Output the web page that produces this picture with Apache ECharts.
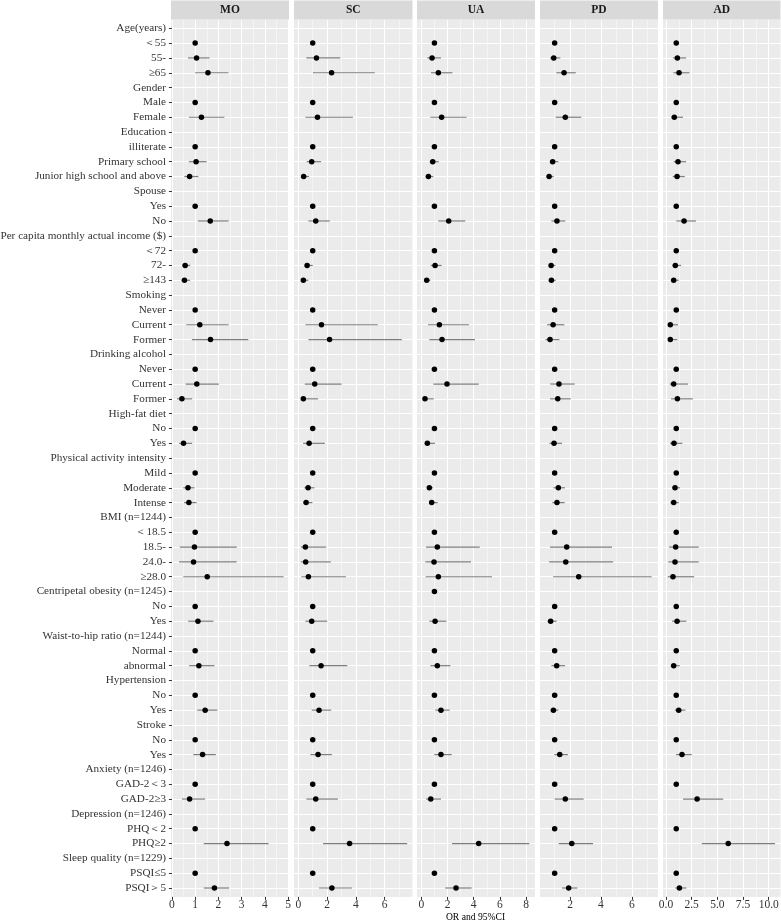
<!DOCTYPE html>
<html><head><meta charset="utf-8">
<script src="https://cdn.jsdelivr.net/npm/echarts@6/dist/echarts.min.js"></script>
<style>html,body{margin:0;padding:0;background:#fff}#c{width:781px;height:922px}</style>
</head><body><div id="c"></div>
<script>
const categories = ['Age(years)','＜55','55-','≥65','Gender','Male','Female','Education','illiterate','Primary school','Junior high school and above','Spouse','Yes','No','Per capita monthly actual income ($)','＜72','72-','≥143','Smoking','Never','Current','Former','Drinking alcohol','Never','Current','Former','High-fat diet','No','Yes','Physical activity intensity','Mild','Moderate','Intense','BMI (n=1244)','＜18.5','18.5-','24.0-','≥28.0','Centripetal obesity (n=1245)','No','Yes','Waist-to-hip ratio (n=1244)','Normal','abnormal','Hypertension','No','Yes','Stroke','No','Yes','Anxiety (n=1246)','GAD-2＜3','GAD-2≥3','Depression (n=1246)','PHQ＜2','PHQ≥2','Sleep quality (n=1229)','PSQI≤5','PSQI＞5'];
const panelNames = ['MO','SC','UA','PD','AD'];
const n = null;
// MO
const moOR   = [n,1,1.06,1.55,n,1,1.27,n,1,1.04,0.76,n,1,1.65,n,1,0.57,0.54,n,1,1.20,1.66,n,1,1.07,0.43,n,1,0.50,n,1,0.69,0.73,n,1,0.97,0.93,1.52,n,1,1.12,n,1,1.16,n,1,1.43,n,1,1.32,n,1,0.76,n,1,2.37,n,1,1.83];
const moLow  = [n,1,0.69,1.00,n,1,0.73,n,1,0.73,0.53,n,1,1.12,n,1,0.44,0.41,n,1,0.62,0.86,n,1,0.59,0.22,n,1,0.31,n,1,0.49,0.52,n,1,0.34,0.31,0.49,n,1,0.70,n,1,0.74,n,1,1.09,n,1,0.92,n,1,0.43,n,1,1.37,n,1,1.37];
const moHigh = [n,1,1.62,2.43,n,1,2.26,n,1,1.49,1.14,n,1,2.44,n,1,0.79,0.79,n,1,2.44,3.29,n,1,2.02,0.87,n,1,0.87,n,1,0.97,1.06,n,1,2.79,2.79,4.81,n,1,1.79,n,1,1.83,n,1,1.95,n,1,1.89,n,1,1.43,n,1,4.16,n,1,2.46];
// SC
const scOR   = [n,1,1.26,2.31,n,1,1.33,n,1,0.93,0.37,n,1,1.21,n,1,0.61,0.35,n,1,1.61,2.17,n,1,1.14,0.35,n,1,0.75,n,1,0.68,0.54,n,1,0.49,0.51,0.70,n,1,0.93,n,1,1.58,n,1,1.44,n,1,1.37,n,1,1.21,n,1,3.56,n,1,2.33];
const scLow  = [n,1,0.56,1.02,n,1,0.49,n,1,0.58,0.24,n,1,0.70,n,1,0.45,0.19,n,1,0.49,0.70,n,1,0.45,0.17,n,1,0.33,n,1,0.42,0.33,n,1,0.17,0.17,0.21,n,1,0.49,n,1,0.77,n,1,0.93,n,1,0.84,n,1,0.56,n,1,1.72,n,1,1.44];
const scHigh = [n,1,2.91,5.31,n,1,3.79,n,1,1.58,0.75,n,1,2.19,n,1,1.00,0.70,n,1,5.52,7.19,n,1,3.00,1.37,n,1,1.84,n,1,1.12,0.98,n,1,1.93,2.26,3.31,n,1,2.00,n,1,3.40,n,1,2.28,n,1,2.33,n,1,2.75,n,1,7.56,n,1,3.72];
// UA
const uaOR   = [n,1,0.82,1.30,n,1,1.55,n,1,0.87,0.54,n,1,2.09,n,1,1.05,0.41,n,1,1.38,1.58,n,1,1.96,0.28,n,1,0.46,n,1,0.61,0.79,n,1,1.22,0.97,1.30,1,n,1.05,n,1,1.22,n,1,1.50,n,1,1.50,n,1,0.72,n,n,4.38,n,1,2.65];
const uaLow  = [n,1,0.46,0.74,n,1,0.69,n,1,0.64,0.34,n,1,1.30,n,1,0.72,0.26,n,1,0.51,0.61,n,1,0.92,0.13,n,1,0.26,n,1,0.44,0.59,n,1,0.36,0.31,0.33,1,n,0.61,n,1,0.69,n,1,1.07,n,1,0.99,n,1,0.36,n,n,2.34,n,1,1.83];
const uaHigh = [n,1,1.50,2.37,n,1,3.46,n,1,1.33,0.92,n,1,3.36,n,1,1.55,0.69,n,1,3.64,4.10,n,1,4.38,0.94,n,1,1.05,n,1,0.89,1.25,n,1,4.46,3.79,5.40,1,n,1.91,n,1,2.22,n,1,2.17,n,1,2.32,n,1,1.50,n,n,8.25,n,1,3.84];
// PD
const pdOR   = [n,1,0.94,1.61,n,1,1.69,n,1,0.87,0.64,n,1,1.15,n,1,0.77,0.79,n,1,0.90,0.70,n,1,1.28,1.20,n,1,0.96,n,1,1.24,1.15,n,1,1.78,1.72,2.56,n,1,0.74,n,1,1.13,n,1,0.92,n,1,1.33,n,1,1.69,n,1,2.11,n,1,1.91];
const pdLow  = [n,1,0.70,1.11,n,1,1.07,n,1,0.68,0.48,n,1,0.79,n,1,0.62,0.62,n,1,0.51,0.40,n,1,0.72,0.70,n,1,0.66,n,1,0.92,0.85,n,1,0.70,0.64,0.90,n,1,0.53,n,1,0.79,n,1,0.74,n,1,0.98,n,1,1.00,n,1,1.26,n,1,1.48];
const pdHigh = [n,1,1.37,2.37,n,1,2.73,n,1,1.24,0.94,n,1,1.69,n,1,1.05,1.07,n,1,1.63,1.31,n,1,2.30,2.04,n,1,1.48,n,1,1.67,1.65,n,1,4.72,4.79,7.29,n,1,1.13,n,1,1.67,n,1,1.24,n,1,1.86,n,1,2.88,n,1,3.49,n,1,2.47];
// AD
const adOR   = [n,1,1.11,1.27,n,1,0.81,n,1,1.17,1.08,n,1,1.76,n,1,0.91,0.75,n,1,0.42,0.42,n,1,0.75,1.11,n,1,0.78,n,1,0.88,0.75,n,1,0.94,0.88,0.68,n,1,1.08,n,1,0.75,n,1,1.24,n,1,1.56,n,1,3.03,n,1,6.06,n,1,1.31];
const adLow  = [n,1,0.68,0.72,n,1,0.52,n,1,0.75,0.65,n,1,1.01,n,1,0.62,0.52,n,1,0.23,0.23,n,1,0.36,0.49,n,1,0.39,n,1,0.59,0.42,n,1,0.29,0.23,0.16,n,1,0.59,n,1,0.46,n,1,0.85,n,1,0.98,n,1,1.66,n,1,3.49,n,1,0.91];
const adHigh = [n,1,1.96,2.28,n,1,1.66,n,1,1.96,1.83,n,1,2.93,n,1,1.47,1.24,n,1,1.17,1.11,n,1,2.15,2.61,n,1,1.60,n,1,1.37,1.24,n,1,3.19,3.19,2.74,n,1,1.99,n,1,1.34,n,1,1.89,n,1,2.51,n,1,5.57,n,1,10.62,n,1,1.99];

const orArr = [moOR, scOR, uaOR, pdOR, adOR];
const lowArr = [moLow, scLow, uaLow, pdLow, adLow];
const highArr = [moHigh, scHigh, uaHigh, pdHigh, adHigh];
const majorTicks = [[0,1,2,3,4,5],[0,2,4,6],[0,2,4,6,8],[2,4,6],[0,2.5,5,7.5,10]];
const minorTicks = [[0.5,1.5,2.5,3.5,4.5],[1,3,5,7],[1,3,5,7],[1,3,5,7],[1.25,3.75,6.25,8.75]];
const xRange = [[-0.04,5.04],[-0.30,7.93],[-0.33,8.68],[0.05,7.70],[-0.29,11.15]];

const FONT = "'Liberation Serif','Times New Roman',serif";
const rows = categories.map((_, i) => i + 1);
const panelLeft = [171, 294, 417, 540, 663];
const panelW = [118, 118.5, 118, 118, 117.5];
const TOP = 19.4, H = 877.5;

const grids = [], xAxes = [], yAxes = [], series = [], graphics = [];
panelNames.forEach((name, i) => {
  grids.push({left: panelLeft[i], top: TOP, width: panelW[i], height: H, show: true,
    backgroundColor: '#ebebeb', borderWidth: 0, containLabel: false, outerBoundsMode: 'none'});
  xAxes.push({type: 'value', gridIndex: i, min: xRange[i][0], max: xRange[i][1], position: 'bottom',
    axisLine: {show: false},
    axisTick: {show: true, length: 3, lineStyle: {color: '#333', width: 1}, customValues: majorTicks[i]},
    axisLabel: {show: true, customValues: majorTicks[i], margin: 2, fontFamily: FONT, fontSize: 11.5, color: '#333',
      formatter: v => (i === 4 ? Number(v).toFixed(1) : String(v))},
    splitLine: {show: true, lineStyle: {color: '#ffffff', width: 1}}
  });
  xAxes.push({type: 'value', gridIndex: i, min: xRange[i][0], max: xRange[i][1], position: 'bottom',
    axisLine: {show: false},
    axisTick: {show: false, customValues: minorTicks[i]},
    axisLabel: {show: false},
    splitLine: {show: true, lineStyle: {color: '#ffffff', width: 0.5}}
  });
  yAxes.push({type: 'value', gridIndex: i, inverse: true, min: 0.4, max: 59.6,
    axisLine: {show: false},
    axisTick: {show: i === 0, length: 3, lineStyle: {color: '#333', width: 1}, customValues: rows},
    axisLabel: {show: i === 0, customValues: rows, margin: 5, fontFamily: FONT, fontSize: 11.2, color: '#333',
      formatter: v => categories[Math.round(v) - 1]},
    splitLine: {show: true, lineStyle: {color: '#ffffff', width: 1}}
  });
  const errData = [], ptData = [];
  orArr[i].forEach((v, r) => {
    if (v === null) return;
    ptData.push([v, r + 1]);
    if (lowArr[i][r] !== highArr[i][r]) errData.push([lowArr[i][r], highArr[i][r], r + 1]);
  });
  series.push({type: 'custom', xAxisIndex: 2 * i, yAxisIndex: i, z: 2, silent: true,
    encode: {x: [0, 1], y: 2},
    renderItem: (params, api) => {
      const p1 = api.coord([api.value(0), api.value(2)]);
      const p2 = api.coord([api.value(1), api.value(2)]);
      return {type: 'line', shape: {x1: p1[0], y1: p1[1], x2: p2[0], y2: p2[1]},
        style: {stroke: '#7f7f7f', lineWidth: 1.2}};
    },
    data: errData});
  series.push({type: 'scatter', xAxisIndex: 2 * i, yAxisIndex: i, z: 3, silent: true,
    symbol: 'circle', symbolSize: 5.5, itemStyle: {color: '#000', opacity: 1}, data: ptData});
  graphics.push({type: 'rect', left: panelLeft[i], top: 0.5, shape: {width: panelW[i], height: TOP - 0.5},
    style: {fill: '#d9d9d9'}, z: 1});
  graphics.push({type: 'text', x: panelLeft[i] + panelW[i] / 2, y: 10.3, z: 2,
    style: {text: name, font: 'bold 11.5px ' + FONT, fill: '#1a1a1a', textAlign: 'center', textVerticalAlign: 'middle'}});
});
graphics.push({type: 'text', x: 475.5, y: 917.5,
  style: {text: 'OR and 95%CI', font: '9.6px ' + FONT, fill: '#000', textAlign: 'center', textVerticalAlign: 'middle'}});

const chart = echarts.init(document.getElementById('c'), null, {renderer: 'canvas'});
chart.setOption({
  animation: false,
  backgroundColor: '#ffffff',
  grid: grids, xAxis: xAxes, yAxis: yAxes, series: series, graphic: graphics
});
</script></body></html>
